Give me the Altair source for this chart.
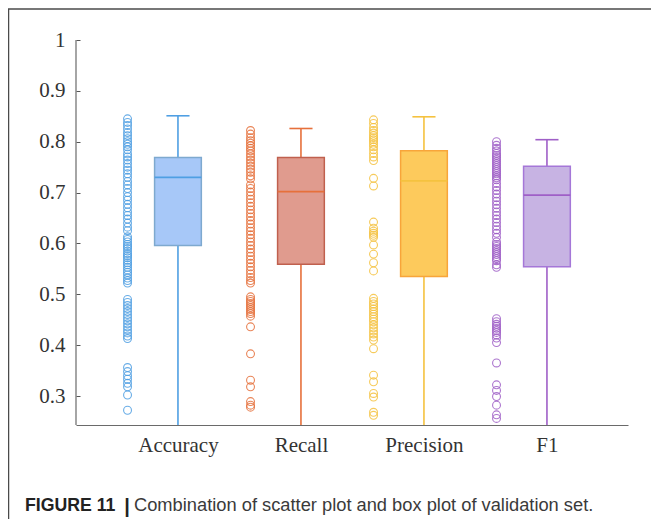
import altair as alt
import pandas as pd

# ---------------- data ----------------
metrics = ["Accuracy", "Recall", "Precision", "F1"]

accuracy_pts = [0.845, 0.838, 0.832, 0.825, 0.818, 0.812, 0.806, 0.800, 0.795, 0.790,
                0.784, 0.776, 0.770, 0.764, 0.757, 0.750, 0.744, 0.737, 0.730, 0.722,
                0.715, 0.708, 0.700, 0.692, 0.685, 0.677, 0.670, 0.662, 0.655, 0.648,
                0.640, 0.632, 0.625,
                0.613, 0.608, 0.603, 0.598, 0.594, 0.590, 0.585, 0.580, 0.576, 0.572,
                0.567, 0.562, 0.558, 0.553, 0.548, 0.543, 0.538, 0.532, 0.527, 0.522,
                0.490, 0.484, 0.478, 0.472, 0.466, 0.460, 0.454, 0.448, 0.442, 0.436,
                0.430, 0.424, 0.418, 0.413,
                0.356, 0.348, 0.340, 0.333, 0.325, 0.318, 0.302, 0.272]

recall_pts = [0.822, 0.815, 0.808, 0.802, 0.797, 0.792, 0.787, 0.782, 0.776, 0.770,
              0.764, 0.758, 0.752, 0.746, 0.740, 0.733, 0.727,
              0.715, 0.708, 0.701, 0.694, 0.687, 0.680, 0.673, 0.666, 0.659, 0.652,
              0.645, 0.638, 0.631, 0.624, 0.617, 0.610, 0.603, 0.596, 0.589, 0.582,
              0.575, 0.568, 0.561, 0.554, 0.547, 0.540, 0.533, 0.527, 0.522,
              0.495, 0.490, 0.486, 0.482, 0.478, 0.474, 0.470, 0.466, 0.462, 0.457,
              0.436, 0.383, 0.331, 0.318, 0.289, 0.282, 0.278]

precision_pts = [0.843, 0.836, 0.828, 0.822, 0.817, 0.812, 0.808, 0.804, 0.800, 0.795,
                 0.790, 0.784, 0.777, 0.770, 0.763,
                 0.728, 0.713,
                 0.642, 0.630, 0.624, 0.620, 0.616, 0.612,
                 0.597, 0.579, 0.562, 0.546,
                 0.492, 0.486, 0.481, 0.476, 0.471, 0.466, 0.461, 0.456, 0.451, 0.446,
                 0.440, 0.434, 0.428, 0.422, 0.416, 0.410,
                 0.393, 0.341, 0.328, 0.305, 0.298, 0.268, 0.262]

f1_pts = [0.800, 0.793, 0.787, 0.782, 0.777, 0.773, 0.769, 0.765, 0.761, 0.757,
          0.753, 0.749, 0.745, 0.741, 0.737, 0.733, 0.729, 0.725,
          0.718, 0.711, 0.704, 0.697, 0.690, 0.683, 0.676, 0.669, 0.662, 0.655,
          0.648, 0.641, 0.634, 0.627, 0.620, 0.612,
          0.603, 0.598, 0.594, 0.590, 0.586, 0.582, 0.578, 0.574, 0.570, 0.566,
          0.558, 0.553,
          0.452, 0.446, 0.441, 0.437, 0.433, 0.429, 0.425, 0.420, 0.414, 0.405,
          0.365, 0.322, 0.311, 0.299, 0.282, 0.263, 0.256]

# box statistics
q1 = [0.596, 0.559, 0.535, 0.554]
median = [0.730, 0.702, 0.723, 0.695]
q3 = [0.769, 0.769, 0.782, 0.752]
whisker_hi = [0.851, 0.826, 0.849, 0.804]
whisker_lo = [0.20, 0.20, 0.20, 0.20]

y_ticks = [0.3, 0.4, 0.5, 0.6, 0.7, 0.8, 0.9, 1.0]
caption_bold = "FIGURE 11"
caption_bar = "|"
caption_text = "Combination of scatter plot and box plot of validation set."

# ---------------- styles ----------------
scatter_colors = ["#4f9fe3", "#e6703b", "#f5c23f", "#9f5fc7"]
fill_colors = ["#a7c8f8", "#e09b8e", "#fdca5c", "#c7b3e3"]
edge_colors = ["#7ea9cf", "#c0604e", "#f8a53a", "#a577d8"]
line_colors = ["#3a7ad8", "#bd5d4b", "#f7a233", "#a06bd3"]

W, H = 552, 385
SCAT_OFF = -0.41
BOX_HALF = 0.19
CAP_HALF = 0.094
FONT_SERIF = "Liberation Serif"
FONT_SANS = "Liberation Sans"
TEXT_COLOR = "#333333"

# ---------------- tables ----------------
series = [accuracy_pts, recall_pts, precision_pts, f1_pts]
rows = []
for i, (m, vals) in enumerate(zip(metrics, series)):
    for v in vals:
        rows.append({"metric": m, "pos": i + 1, "value": v})
pts = pd.DataFrame(rows)

box = pd.DataFrame({
    "metric": metrics,
    "pos": [i + 1 for i in range(len(metrics))],
    "q1": q1, "median": median, "q3": q3,
    "whi": whisker_hi, "wlo": whisker_lo,
})

label_expr = "[" + ",".join(f"'{m}'" for m in metrics) + "][datum.value - 1]"

xscale = alt.Scale(domain=[0.171, 4.659], nice=False, zero=False)
yscale = alt.Scale(domain=[0.243, 1.0], nice=False, zero=False)

x_axis = alt.Axis(values=[1, 2, 3, 4], labelExpr=label_expr, title=None,
                  ticks=False, grid=False, domain=True, domainColor="#6a6a6a",
                  domainWidth=1.2, labelFont=FONT_SERIF, labelFontSize=21,
                  labelColor=TEXT_COLOR, labelPadding=9)
y_axis = alt.Axis(values=y_ticks, format=".1~f", title=None, grid=False,
                  domain=False, offset=-4, tickSize=4, tickColor="#555555",
                  tickWidth=1, labelFont=FONT_SERIF, labelFontSize=21,
                  labelColor=TEXT_COLOR, labelPadding=11)

def scolor(rng):
    return alt.Color("metric:N", scale=alt.Scale(domain=metrics, range=rng), legend=None)

scatter = alt.Chart(pts).transform_calculate(
    xs=f"datum.pos + ({SCAT_OFF})"
).mark_point(shape="circle", filled=False, size=62, strokeWidth=1.1, opacity=0.85).encode(
    x=alt.X("xs:Q", scale=xscale, axis=x_axis),
    y=alt.Y("value:Q", scale=yscale, axis=y_axis),
    color=scolor(scatter_colors),
)

base_box = alt.Chart(box).transform_calculate(
    xl=f"datum.pos - {BOX_HALF}", xr=f"datum.pos + {BOX_HALF}",
    cl=f"datum.pos - {CAP_HALF}", cr=f"datum.pos + {CAP_HALF}",
)

whisk_up = base_box.mark_rule(strokeWidth=1.6).encode(
    x=alt.X("pos:Q", scale=xscale, axis=x_axis),
    y=alt.Y("q3:Q", scale=yscale, axis=y_axis), y2="whi:Q",
    color=scolor(line_colors),
)
whisk_lo = base_box.mark_rule(strokeWidth=1.6, clip=True).encode(
    x=alt.X("pos:Q", scale=xscale, axis=x_axis),
    y=alt.Y("wlo:Q", scale=yscale, axis=y_axis), y2="q1:Q",
    color=scolor(line_colors),
)
cap = base_box.mark_rule(strokeWidth=1.6).encode(
    x=alt.X("cl:Q", scale=xscale, axis=x_axis), x2="cr:Q",
    y=alt.Y("whi:Q", scale=yscale, axis=y_axis),
    color=scolor(line_colors),
)
boxes = base_box.mark_bar(strokeWidth=1.5).encode(
    x=alt.X("xl:Q", scale=xscale, axis=x_axis), x2="xr:Q",
    y=alt.Y("q1:Q", scale=yscale, axis=y_axis), y2="q3:Q",
    fill=alt.Fill("metric:N", scale=alt.Scale(domain=metrics, range=fill_colors), legend=None),
    stroke=alt.Stroke("metric:N", scale=alt.Scale(domain=metrics, range=edge_colors), legend=None),
)
med = base_box.mark_rule(strokeWidth=1.8).encode(
    x=alt.X("xl:Q", scale=xscale, axis=x_axis), x2="xr:Q",
    y=alt.Y("median:Q", scale=yscale, axis=y_axis),
    color=scolor(line_colors),
)

one = pd.DataFrame({"a": [0]})
yline = alt.Chart(one).mark_rule(color="#6a6a6a", strokeWidth=1.2).encode(
    x=alt.value(0), y=alt.value(0), y2=alt.value(H))
border_top = alt.Chart(one).mark_rule(color="#4a4a4a", strokeWidth=1.5).encode(
    x=alt.value(-68), x2=alt.value(590), y=alt.value(-31))
border_left = alt.Chart(one).mark_rule(color="#4a4a4a", strokeWidth=1.5).encode(
    x=alt.value(-67.5), y=alt.value(-31), y2=alt.value(495))
cap_b = alt.Chart(one).mark_text(text=caption_bold, font=FONT_SANS, fontSize=17.7,
                                 fontWeight="bold", align="left", baseline="alphabetic",
                                 color="#222222").encode(x=alt.value(-51), y=alt.value(471))
cap_bar = alt.Chart(one).mark_text(text=caption_bar, font=FONT_SANS, fontSize=20,
                                   fontWeight="bold", align="center", baseline="alphabetic",
                                   color="#222222").encode(x=alt.value(51), y=alt.value(473))
cap_t = alt.Chart(one).mark_text(text=caption_text, font=FONT_SANS, fontSize=18.3,
                                 align="left", baseline="alphabetic",
                                 color="#3a3a3a").encode(x=alt.value(58), y=alt.value(471))

chart = alt.layer(
    scatter, whisk_up, whisk_lo, boxes, med, cap, yline,
    border_top, border_left, cap_b, cap_bar, cap_t,
).properties(
    width=W, height=H,
    padding={"left": 68, "top": 32, "right": 23, "bottom": 94},
    autosize=alt.AutoSizeParams(type="none"),
    background="white",
).configure_view(stroke=None)

chart.save("out.html", embed_options={"renderer": "svg", "actions": False})
